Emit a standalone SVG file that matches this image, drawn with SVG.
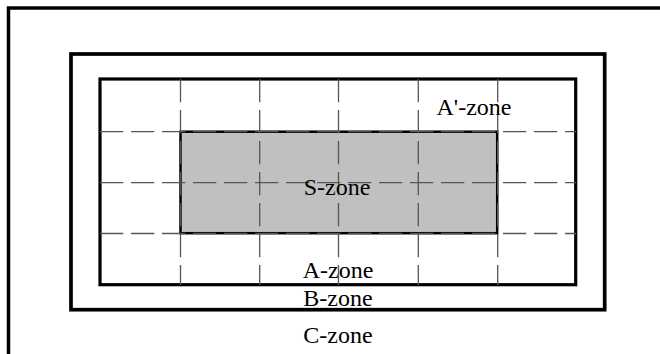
<svg xmlns="http://www.w3.org/2000/svg" width="660" height="354" viewBox="0 0 660 354">
  <style>
    .frame { fill: none; stroke: #000; }
    .grid { stroke: #555; stroke-width: 1.3; stroke-dasharray: 23.3 7.7; fill: none; }
    .label { font-family: 'Liberation Serif', serif; font-size: 24px; fill: #000; text-anchor: middle; }
  </style>
  <rect width="660" height="354" fill="#fff"/>
  <g id="c-zone">
    <rect class="frame" x="8.5" y="8" width="700" height="400" stroke-width="3.5"/>
    <text class="label" x="338" y="343">C-zone</text>
  </g>
  <g id="b-zone">
    <rect class="frame" x="71" y="54" width="533.7" height="255.7" stroke-width="3.7"/>
    <text class="label" x="338" y="306">B-zone</text>
  </g>
  <g id="a-zone">
    <rect class="frame" x="100" y="79" width="475.7" height="205.7" stroke-width="3.2"/>
    <text class="label" x="338" y="278">A-zone</text>
  </g>
  <g id="s-zone">
    <rect x="180.5" y="131.7" width="316.7" height="101.5" fill="#c0c0c0" stroke="#000" stroke-width="2.5"/>
  </g>
  <g id="grid-lines">
    <line class="grid" x1="100" y1="131.7" x2="576" y2="131.7"/>
    <line class="grid" x1="100" y1="182.7" x2="576" y2="182.7"/>
    <line class="grid" x1="100" y1="233.5" x2="576" y2="233.5"/>
    <line class="grid" x1="180.5" y1="79" x2="180.5" y2="285"/>
    <line class="grid" x1="259.7" y1="79" x2="259.7" y2="285"/>
    <line class="grid" x1="338.5" y1="79" x2="338.5" y2="285"/>
    <line class="grid" x1="418.3" y1="79" x2="418.3" y2="285"/>
    <line class="grid" x1="497.7" y1="79" x2="497.7" y2="285"/>
  </g>
  <g id="s-label">
    <text class="label" x="337" y="195">S-zone</text>
  </g>
  <g id="a-prime-zone">
    <text class="label" x="474" y="115">A'-zone</text>
  </g>
</svg>
